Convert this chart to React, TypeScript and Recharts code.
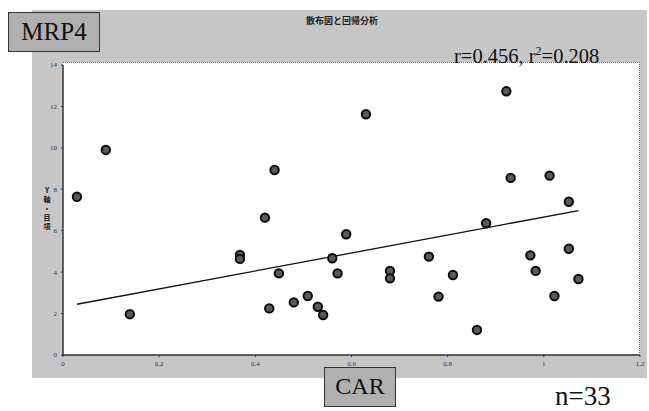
import React from "react";
import { ScatterChart, Scatter, XAxis, YAxis, ReferenceLine } from "recharts";

const carValues = [
  0.029, 0.089, 0.139, 0.368, 0.368, 0.420, 0.440, 0.429, 0.449, 0.480, 0.509,
  0.530, 0.541, 0.560, 0.571, 0.589, 0.630, 0.680, 0.680, 0.761, 0.781, 0.811,
  0.861, 0.880, 0.922, 0.931, 0.972, 0.983, 1.012, 1.022, 1.052, 1.052, 1.072,
];
const mrp4Values = [
  7.64, 9.90, 1.97, 4.83, 4.64, 6.63, 8.93, 2.25, 3.94, 2.54, 2.85,
  2.33, 1.93, 4.67, 3.94, 5.83, 11.62, 4.06, 3.70, 4.75, 2.82, 3.86,
  1.21, 6.36, 12.73, 8.55, 4.81, 4.06, 8.66, 2.85, 7.40, 5.13, 3.67,
];
const fitStart = { x: 0.029, y: 2.45 };
const fitEnd = { x: 1.072, y: 6.97 };
const xTicks = [0, 0.2, 0.4, 0.6, 0.8, 1, 1.2];
const yTicks = [0, 2, 4, 6, 8, 10, 12, 14];

const points = carValues.map((x, i) => ({ x, y: mrp4Values[i] }));

const Dot = (props: any) => {
  const { cx, cy } = props;
  if (cx == null || cy == null) return null;
  return <circle cx={cx} cy={cy} r={4.2} fill="#5a5a5a" stroke="#0a0a0a" strokeWidth={2} />;
};

const serif = "Liberation Serif, Times New Roman, Times, serif";

export default function App() {
  return (
    <div style={{ position: "absolute", left: 0, top: 0, width: 649, height: 411, background: "#fff", overflow: "hidden" }}>
      <div style={{ position: "absolute", left: 32, top: 10, width: 615, height: 368, background: "#c6c6c6" }} />
      <div style={{ position: "absolute", left: 63, top: 62, width: 577, height: 293, background: "#fff", borderTop: "1px dotted #666", borderRight: "1px dotted #666", boxSizing: "border-box" }} />
      <div style={{ position: "absolute", left: 300, top: 15, width: 84, textAlign: "center", fontFamily: "'Noto Sans CJK JP', sans-serif", fontWeight: 700, fontSize: 9, color: "#222", lineHeight: "12px" }}>散布図と回帰分析</div>
      <div style={{ position: "absolute", left: 42, top: 186, width: 10, fontFamily: "'Noto Sans CJK JP', sans-serif", fontWeight: 700, fontSize: 7, color: "#111", lineHeight: "9px", textAlign: "center" }}>
        Y<br />軸<br />・<br />目<br />項
      </div>
      <div style={{ position: "absolute", left: 0, top: 0 }}>
        <ScatterChart width={649} height={411} margin={{ top: 65, right: 9, bottom: 36, left: 33 }}>
          <XAxis
            type="number"
            dataKey="x"
            domain={[0, 1.2]}
            ticks={xTicks}
            height={20}
            tickSize={2}
            tickMargin={4}
            axisLine={{ stroke: "#333", strokeWidth: 1.5 }}
            tickLine={{ stroke: "#333" }}
            tick={{ fontSize: 7, fill: "#333", fontFamily: serif }}
          />
          <YAxis
            type="number"
            dataKey="y"
            domain={[0, 14]}
            ticks={yTicks}
            width={30}
            tickSize={2}
            tickMargin={4}
            axisLine={{ stroke: "#333", strokeWidth: 1.5 }}
            tickLine={{ stroke: "#333" }}
            tick={{ fontSize: 7, fill: "#333", fontFamily: serif }}
          />
          <ReferenceLine
            segment={[fitStart, fitEnd]}
            stroke="#111"
            strokeWidth={1.3}
            ifOverflow="visible"
          />
          <Scatter data={points} shape={<Dot />} isAnimationActive={false} />
        </ScatterChart>
      </div>
      <div style={{ position: "absolute", left: 454, top: 45, fontFamily: serif, fontSize: 20.5, color: "#111", lineHeight: "22px", whiteSpace: "nowrap" }}>
        r=0.456, r<sup style={{ fontSize: 12, verticalAlign: "top", lineHeight: "12px" }}>2</sup>=0.208
      </div>
      <div style={{ position: "absolute", left: 8, top: 12, width: 92, height: 40, boxSizing: "border-box", border: "1.5px solid #333", background: "#b0b0b0", fontFamily: serif, fontSize: 25, color: "#111", lineHeight: "37px", textAlign: "center" }}>MRP4</div>
      <div style={{ position: "absolute", left: 324, top: 367, width: 72, height: 40, boxSizing: "border-box", border: "1.5px solid #333", background: "#b0b0b0", fontFamily: serif, fontSize: 24, color: "#111", lineHeight: "37px", textAlign: "center" }}>CAR</div>
      <div style={{ position: "absolute", left: 555, top: 381, fontFamily: serif, fontSize: 27, color: "#111", lineHeight: "30px" }}>n=33</div>
    </div>
  );
}
